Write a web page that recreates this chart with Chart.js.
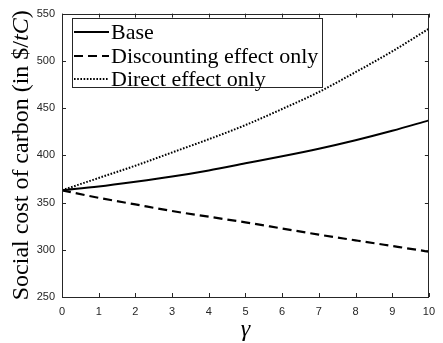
<!DOCTYPE html>
<html>
<head>
<meta charset="utf-8">
<script src="https://cdn.jsdelivr.net/npm/chart.js@4.4.1/dist/chart.umd.min.js"></script>
<style>
  html, body { margin: 0; padding: 0; background: #fff; }
  #wrap { width: 443px; height: 343px; position: relative; }
</style>
</head>
<body>
<div id="wrap"><canvas id="c" width="443" height="343"></canvas></div>
<script>
// ---- data ----
const gamma = [0, 1, 2, 3, 4, 5, 6, 7, 8, 9, 10];
const baseSCC = [363, 367, 372, 377.5, 384, 391.5, 399, 407, 416, 426, 437];
const discountingOnly = [363, 355, 348, 341, 335, 329, 322.5, 316, 310, 304, 298];
const directOnly = [363, 376, 389, 403, 417, 432, 449, 467, 488, 510, 534];
const seriesLabels = ['Base', 'Discounting effect only', 'Direct effect only'];
const xTicks = [0, 1, 2, 3, 4, 5, 6, 7, 8, 9, 10];
const yTicks = [250, 300, 350, 400, 450, 500, 550];
const yTitleParts = [
  { text: 'Social cost of carbon (in $/', italic: false },
  { text: 'tC', italic: true },
  { text: ')', italic: false }
];
const xTitle = 'γ';

const serif = '"Liberation Serif", "DejaVu Serif", serif';
const sans = '"Liberation Sans", Arial, sans-serif';

function pts(ys) { return gamma.map((g, i) => ({ x: g, y: ys[i] })); }

const styles = [
  { borderDash: [], borderWidth: 2 },
  { borderDash: [9, 5], borderWidth: 2.2 },
  { borderDash: [1.6, 1.6], borderWidth: 2 }
];
const seriesData = [baseSCC, discountingOnly, directOnly];

const framePlugin = {
  id: 'frame',
  afterDraw(chart) {
    const { ctx, chartArea: a, scales } = chart;
    ctx.save();
    // frame
    ctx.strokeStyle = '#262626';
    ctx.lineWidth = 1;
    ctx.strokeRect(Math.round(a.left) + 0.5, Math.round(a.top) + 0.5,
                   Math.round(a.right - a.left) - 1, Math.round(a.bottom - a.top));
    // inward ticks, all sides
    const tl = 4;
    ctx.beginPath();
    scales.x.ticks.forEach(t => {
      const px = Math.round(scales.x.getPixelForValue(t.value)) + 0.5;
      ctx.moveTo(px, a.bottom); ctx.lineTo(px, a.bottom - tl);
      ctx.moveTo(px, a.top); ctx.lineTo(px, a.top + tl);
    });
    scales.y.ticks.forEach(t => {
      const py = Math.round(scales.y.getPixelForValue(t.value)) + 0.5;
      ctx.moveTo(a.left, py); ctx.lineTo(a.left + tl, py);
      ctx.moveTo(a.right, py); ctx.lineTo(a.right - tl, py);
    });
    ctx.stroke();

    // legend box
    const lx = 72, ly = 18, lw = 250, lh = 69;
    ctx.fillStyle = '#fff';
    ctx.fillRect(lx, ly, lw, lh);
    ctx.strokeStyle = '#262626';
    ctx.lineWidth = 1;
    ctx.strokeRect(lx + 0.5, ly + 0.5, lw, lh);
    const rows = [32, 56, 79];
    ctx.font = '22px ' + serif;
    ctx.textBaseline = 'middle';
    ctx.textAlign = 'left';
    chart.data.datasets.forEach((ds, i) => {
      const y = rows[i];
      ctx.beginPath();
      ctx.strokeStyle = '#000';
      ctx.lineWidth = ds.borderWidth;
      ctx.setLineDash(ds.borderDash);
      ctx.moveTo(74, y); ctx.lineTo(109, y);
      ctx.stroke();
      ctx.setLineDash([]);
      ctx.fillStyle = '#000';
      ctx.fillText(ds.label, 111, y + 1);
    });

    // y title with mixed fonts, rotated
    const fs = 24;
    const fonts = yTitleParts.map(p => (p.italic ? 'italic ' : '') + fs + 'px ' + serif);
    let total = 0;
    const widths = yTitleParts.map((p, i) => { ctx.font = fonts[i]; const w = ctx.measureText(p.text).width; total += w; return w; });
    const cy = (a.top + a.bottom) / 2;
    ctx.translate(22, cy);
    ctx.rotate(-Math.PI / 2);
    ctx.textBaseline = 'middle';
    let x = -total / 2;
    yTitleParts.forEach((p, i) => {
      ctx.font = fonts[i];
      ctx.fillText(p.text, x, 0);
      x += widths[i];
    });
    ctx.restore();
  }
};

new Chart(document.getElementById('c'), {
  type: 'line',
  data: {
    datasets: seriesData.map((d, i) => ({
      label: seriesLabels[i],
      data: pts(d),
      borderColor: '#000',
      backgroundColor: '#000',
      borderWidth: styles[i].borderWidth,
      borderDash: styles[i].borderDash,
      pointRadius: 0,
      cubicInterpolationMode: 'monotone',
      fill: false
    }))
  },
  options: {
    responsive: false,
    animation: false,
    devicePixelRatio: 1,
    layout: { padding: { left: 0, top: 9, right: 9, bottom: 0 } },
    plugins: { legend: { display: false }, tooltip: { enabled: false } },
    scales: {
      x: {
        type: 'linear',
        min: 0, max: 10,
        afterBuildTicks(scale) { scale.ticks = xTicks.map(v => ({ value: v })); },
        afterFit(scale) { scale.height = 46; },
        grid: { display: false, drawTicks: false },
        border: { display: false },
        ticks: { color: '#262626', font: { family: sans, size: 11 }, padding: 8, maxRotation: 0 },
        title: {
          display: true, text: xTitle, color: '#000',
          font: { family: serif, size: 24, style: 'italic', lineHeight: 1 },
          padding: { top: 0, bottom: 1 }
        }
      },
      y: {
        type: 'linear',
        min: 250, max: 550,
        afterBuildTicks(scale) { scale.ticks = yTicks.map(v => ({ value: v })); },
        afterFit(scale) { scale.width = 62; },
        grid: { display: false, drawTicks: false },
        border: { display: false },
        ticks: { color: '#262626', font: { family: sans, size: 11 }, padding: 7 }
      }
    }
  },
  plugins: [framePlugin]
});
</script>
</body>
</html>
